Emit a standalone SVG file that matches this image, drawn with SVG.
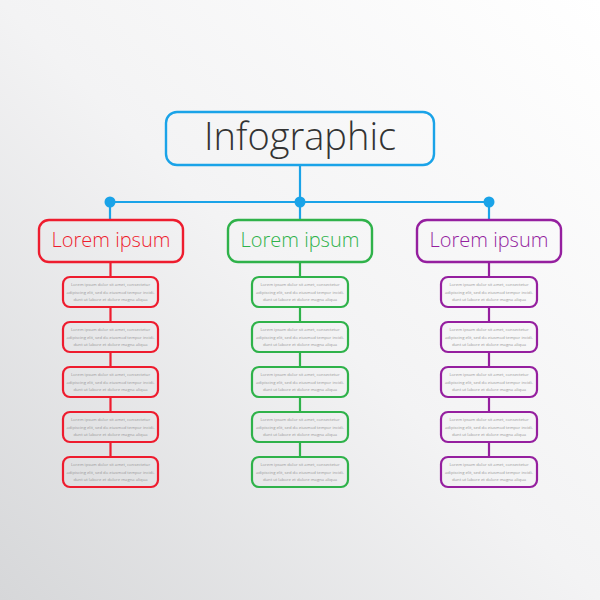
<svg xmlns="http://www.w3.org/2000/svg" width="600" height="600" viewBox="0 0 600 600">
<defs>
<linearGradient id="bg" x1="1" y1="0" x2="0" y2="1">
<stop offset="0" stop-color="#ffffff"/>
<stop offset="0.5" stop-color="#f3f3f4"/>
<stop offset="1" stop-color="#d6d7d9"/>
</linearGradient>
<style>
.t{font-family:"Open Sans","Noto Sans","DejaVu Sans",sans-serif;text-anchor:middle}
.title{font-size:38px;fill:#333;font-weight:300}
.cat{font-size:20px;font-weight:300}
.small{font-size:4.2px;fill:#9a9a9a}
.box{fill:none;stroke-width:2.4}
.sbox{fill:none;stroke-width:2.2}
.red{stroke:#ee1c2e}.green{stroke:#2fb24a}.purple{stroke:#951f9f}.blue{stroke:#1aa3e8}
.line{fill:none;stroke-width:2.2}
</style>
<g id="para">
<text class="t small" x="0" y="0">Lorem ipsum dolor sit amet, consectetur</text>
<text class="t small" x="0" y="7.5">adipiscing elit, sed do eiusmod tempor incidi-</text>
<text class="t small" x="0" y="15">dunt ut labore et dolore magna aliqua</text>
</g>
</defs>
<rect width="600" height="600" fill="url(#bg)"/>
<g id="connectors">
<line class="line blue" x1="300" y1="165" x2="300" y2="202"/>
<line class="line blue" x1="110" y1="202" x2="489" y2="202"/>
<line class="line blue" x1="110" y1="202" x2="110" y2="220"/>
<line class="line blue" x1="300" y1="202" x2="300" y2="220"/>
<line class="line blue" x1="489" y1="202" x2="489" y2="220"/>
<circle cx="110" cy="202" r="5.5" fill="#1aa3e8"/>
<circle cx="300" cy="202" r="5.5" fill="#1aa3e8"/>
<circle cx="489" cy="202" r="5.5" fill="#1aa3e8"/>
<path class="line red" d="M110.5 262V277M110.5 307V322M110.5 352V367M110.5 397V412M110.5 442V457"/>
<path class="line green" d="M300 262V277M300 307V322M300 352V367M300 397V412M300 442V457"/>
<path class="line purple" d="M489 262V277M489 307V322M489 352V367M489 397V412M489 442V457"/>
</g>
<g id="title">
<rect class="box blue" x="166" y="112" width="268" height="53" rx="11"/>
<text class="t title" x="300" y="150">Infographic</text>
</g>
<g id="cat-red">
<rect class="box red" x="39" y="220" width="144" height="42" rx="10"/>
<text class="t cat" x="111" y="247" fill="#ee1c2e">Lorem ipsum</text>
</g>
<g id="cat-green">
<rect class="box green" x="228" y="220" width="144" height="42" rx="10"/>
<text class="t cat" x="300" y="247" fill="#2fb24a">Lorem ipsum</text>
</g>
<g id="cat-purple">
<rect class="box purple" x="417" y="220" width="144" height="42" rx="10"/>
<text class="t cat" x="489" y="247" fill="#951f9f">Lorem ipsum</text>
</g>
<g id="red-items">
<g id="red-1"><rect class="sbox red" x="63" y="277" width="95" height="30" rx="7"/><use href="#para" x="110.5" y="286"/></g>
<g id="red-2"><rect class="sbox red" x="63" y="322" width="95" height="30" rx="7"/><use href="#para" x="110.5" y="331"/></g>
<g id="red-3"><rect class="sbox red" x="63" y="367" width="95" height="30" rx="7"/><use href="#para" x="110.5" y="376"/></g>
<g id="red-4"><rect class="sbox red" x="63" y="412" width="95" height="30" rx="7"/><use href="#para" x="110.5" y="421"/></g>
<g id="red-5"><rect class="sbox red" x="63" y="457" width="95" height="30" rx="7"/><use href="#para" x="110.5" y="466"/></g>
</g>
<g id="green-items">
<g id="green-1"><rect class="sbox green" x="252" y="277" width="96" height="30" rx="7"/><use href="#para" x="300" y="286"/></g>
<g id="green-2"><rect class="sbox green" x="252" y="322" width="96" height="30" rx="7"/><use href="#para" x="300" y="331"/></g>
<g id="green-3"><rect class="sbox green" x="252" y="367" width="96" height="30" rx="7"/><use href="#para" x="300" y="376"/></g>
<g id="green-4"><rect class="sbox green" x="252" y="412" width="96" height="30" rx="7"/><use href="#para" x="300" y="421"/></g>
<g id="green-5"><rect class="sbox green" x="252" y="457" width="96" height="30" rx="7"/><use href="#para" x="300" y="466"/></g>
</g>
<g id="purple-items">
<g id="purple-1"><rect class="sbox purple" x="441" y="277" width="96" height="30" rx="7"/><use href="#para" x="489" y="286"/></g>
<g id="purple-2"><rect class="sbox purple" x="441" y="322" width="96" height="30" rx="7"/><use href="#para" x="489" y="331"/></g>
<g id="purple-3"><rect class="sbox purple" x="441" y="367" width="96" height="30" rx="7"/><use href="#para" x="489" y="376"/></g>
<g id="purple-4"><rect class="sbox purple" x="441" y="412" width="96" height="30" rx="7"/><use href="#para" x="489" y="421"/></g>
<g id="purple-5"><rect class="sbox purple" x="441" y="457" width="96" height="30" rx="7"/><use href="#para" x="489" y="466"/></g>
</g>
</svg>
